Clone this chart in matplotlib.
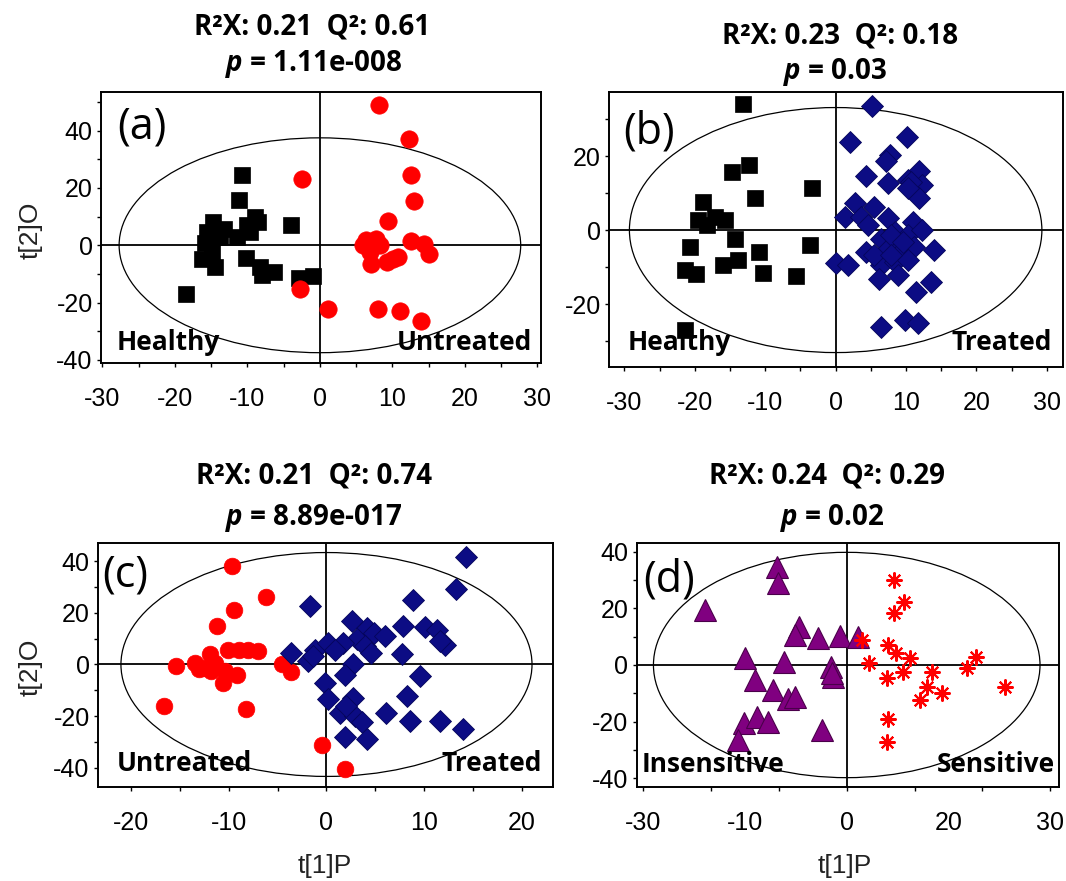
import matplotlib
matplotlib.use('Agg')
import matplotlib.pyplot as plt
from matplotlib.patches import Ellipse
from matplotlib import font_manager as fm


def pick(fams):
    for f in fams:
        try:
            fm.findfont(fm.FontProperties(family=f), fallback_to_default=False)
            return f
        except Exception:
            pass
    return 'DejaVu Sans'


SANS = pick(['Liberation Sans', 'Arial', 'DejaVu Sans'])
HUM = pick(['Open Sans', 'Lato', 'DejaVu Sans'])

plt.rcParams['font.family'] = [SANS, 'DejaVu Sans']
plt.rcParams['axes.unicode_minus'] = False
plt.rcParams['mathtext.fontset'] = 'custom'
plt.rcParams['mathtext.it'] = f'{HUM}:italic:bold'
plt.rcParams['mathtext.rm'] = f'{HUM}:bold'
plt.rcParams['mathtext.bf'] = f'{HUM}:bold'

# ---------------- data ----------------
# (a) Healthy vs Untreated
a_healthy_x = [-10.7, -11.1, -9.0, -10.1, -14.7, -13.3, -15.6, -4.0, -15.9, -14.9, -16.3,
               -14.5, -10.2, -8.3, -6.4, -8.0, -2.9, -0.9, -18.5, -9.7, -8.5, -13.8, -11.5]
a_healthy_y = [24.7, 15.7, 9.9, 7.0, 8.1, 5.8, 4.7, 7.2, 0.9, -2.3, -4.7,
               -7.6, -4.4, -7.6, -9.5, -10.5, -11.4, -10.7, -16.9, 4.7, 8.1, 2.9, 2.9]
a_untreated_x = [8.2, 12.3, 12.5, 13.0, -2.5, 9.4, 6.4, 7.8, 6.9, 7.1, 9.2, 10.8,
                 8.3, 12.6, 14.3, 15.1, -2.8, 1.1, 8.0, 11.0, 14.0, 6.0, 10.1]
a_untreated_y = [48.8, 37.2, 24.7, 15.3, 23.0, 8.4, 1.7, 2.3, -2.3, -6.4, -5.8, -4.1,
                 0.0, 1.4, 0.6, -2.9, -15.1, -22.1, -22.3, -23.0, -26.5, 0.0, -4.7]

# (b) Healthy vs Treated
b_healthy_x = [-13.2, -12.3, -14.7, -3.4, -11.5, -18.8, -19.5, -17.2, -15.7, -14.3, -20.7,
               -10.9, -3.7, -16.0, -13.9, -21.4, -19.8, -10.3, -5.6, -21.4, -18.3]
b_healthy_y = [34.0, 17.6, 15.6, 11.3, 8.6, 7.7, 2.7, 3.6, 2.7, -2.3, -4.5,
               -5.9, -4.1, -9.5, -8.1, -10.8, -12.0, -11.7, -12.3, -27.0, 1.4]
b_treated_x = [5.2, 2.1, 10.1, 7.7, 7.2, 4.3, 11.8, 10.3, 7.4, 12.2, 11.9, 10.7, 2.7, 5.5,
               1.3, 3.6, 4.6, 7.4, 11.0, 8.4, 10.3, 6.5, 14.0, 4.3, 7.4, 9.3, 11.2, 0.1,
               1.7, 6.5, 8.4, 10.3, 6.2, 8.8, 13.6, 11.4, 6.5, 9.8, 11.7, 10.3, 7.9, 9.6,
               5.5, 7.9, 12.2]
b_treated_y = [33.6, 23.7, 25.2, 20.3, 18.6, 14.7, 15.9, 13.5, 12.6, 12.2, 8.6, 13.1, 7.2, 6.3,
               3.6, 3.6, 1.4, 3.2, 2.3, -0.5, -1.4, -2.3, -5.4, -5.9, -5.0, -5.9, -4.5, -9.0,
               -9.5, -9.5, -8.6, -8.1, -13.1, -12.2, -14.0, -16.7, -26.1, -24.3, -25.2, 11.3, -1.4, -3.2,
               -6.8, -6.8, 0.0]

# (c) Untreated vs Treated
c_untreated_x = [-9.7, -6.2, -9.5, -11.2, -11.9, -10.1, -9.0, -8.0, -7.0, -15.4, -13.5, -12.6,
                 -11.4, -10.4, -9.2, -10.6, -4.6, -3.6, -16.6, -8.2, -0.5, 1.9, -13.1, -11.8]
c_untreated_y = [38.2, 26.1, 21.0, 15.1, 3.9, 5.8, 5.8, 5.8, 5.1, -0.6, 0.6, -1.3,
                 0.6, -2.6, -3.9, -7.1, 0.0, -3.0, -16.1, -17.1, -31.3, -40.5, -1.9, -2.6]
c_treated_x = [14.3, 13.3, 8.9, -1.7, 2.6, 7.8, 10.1, 11.3, 4.1, 4.9, 6.0, 3.1, 12.1, 11.6,
               -3.6, -1.2, 0.2, 1.7, 0.9, -1.9, 3.9, 4.6, 7.7, 2.7, 1.9, 9.6, -0.2, 8.2,
               0.2, 2.7, 1.4, 2.9, 3.6, 6.1, 8.6, 11.6, 14.0, 1.9, 4.1, 2.0, -1.4]
c_treated_y = [41.8, 29.2, 25.1, 22.8, 16.7, 15.1, 14.5, 13.5, 14.2, 12.2, 10.9, 9.7, 7.7, 9.0,
               4.5, 5.8, 8.4, 8.4, 5.8, 1.3, 7.1, 4.5, 3.9, 0.0, -3.9, -4.5, -7.1, -12.2,
               -13.5, -12.9, -18.7, -19.9, -22.3, -18.7, -21.9, -21.9, -25.1, -28.3, -28.7, -16.1, 3.2]

# (d) Insensitive vs Sensitive
d_insensitive_x = [-10.3, -10.1, -20.9, -7.0, -7.6, -4.2, -1.0, 1.6, -15.0, -9.3, -2.3,
                   -2.0, -13.6, -10.8, -8.6, -7.6, -15.2, -13.3, -11.6, -3.7, -16.0, -2.1]
d_insensitive_y = [34.7, 29.1, 19.4, 13.5, 10.6, 9.4, 10.2, 10.0, 2.4, 1.2, -0.6,
                   -4.1, -5.3, -8.8, -12.1, -11.2, -20.6, -18.3, -20.0, -23.0, -26.5, -2.9]
d_sensitive_x = [6.9, 8.5, 6.9, 2.2, 6.1, 7.2, 9.3, 3.3, 8.3, 6.0, 12.5, 11.8, 14.0,
                 10.8, 17.7, 19.1, 23.3, 6.1, 6.0]
d_sensitive_y = [30.0, 22.4, 18.5, 8.8, 7.1, 4.1, 2.4, 0.6, -2.4, -4.7, -2.4, -7.7, -10.0,
                 -12.4, -1.2, 2.9, -7.7, -19.2, -27.1]

titles_line1 = ["R²X: 0.21  Q²: 0.61", "R²X: 0.23  Q²: 0.18",
                "R²X: 0.21  Q²: 0.74", "R²X: 0.24  Q²: 0.29"]
p_values = ["1.11e-008", "0.03", "8.89e-017", "0.02"]
panel_letters = ["(a)", "(b)", "(c)", "(d)"]
group_labels = [("Healthy", "Untreated"), ("Healthy", "Treated"),
                ("Untreated", "Treated"), ("Insensitive", "Sensitive")]
# Hotelling T2 ellipse half-axes (t1, t2)
ellipse_axes = [(27.7, 37.5), (29.3, 33.1), (21.05, 43.4), (28.5, 39.8)]

# ---------------- styling ----------------
W, H = 1066, 881
RED = '#FF0000'
NAVY = '#0C0C84'
PURPLE = '#800080'

fig = plt.figure(figsize=(W / 100, H / 100), dpi=100)


def px_axes(l, t, r, b):
    return fig.add_axes([l / W, 1 - b / H, (r - l) / W, (b - t) / H])


axA = px_axes(101, 92, 541, 363)
axB = px_axes(609, 92, 1063, 367)
axC = px_axes(98, 543, 553, 787)
axD = px_axes(636.5, 543, 1059, 787)
axes = [axA, axB, axC, axD]

axA.set_xlim(-30.2, 30.5); axA.set_ylim(-41.1, 53.5)
axB.set_xlim(-32.2, 32.3); axB.set_ylim(-37.0, 37.3)
axC.set_xlim(-23.4, 23.2); axC.set_ylim(-47.5, 47.1)
axD.set_xlim(-31.0, 31.3); axD.set_ylim(-43.1, 43.1)

# markers
axA.plot(a_healthy_x, a_healthy_y, 's', color='black', ms=12, mec='black', mew=0.5, zorder=3)
axA.plot(a_untreated_x, a_untreated_y, 'o', color=RED, ms=12.5, mec=RED, mew=0.5, zorder=3)
axB.plot(b_healthy_x, b_healthy_y, 's', color='black', ms=11.3, mec='black', mew=0.5, zorder=3)
axB.plot(b_treated_x, b_treated_y, 'D', color=NAVY, ms=11, mec='#05055A', mew=0.6, zorder=3)
axC.plot(c_untreated_x, c_untreated_y, 'o', color=RED, ms=12, mec=RED, mew=0.5, zorder=3)
axC.plot(c_treated_x, c_treated_y, 'D', color=NAVY, ms=10.7, mec='#05055A', mew=0.6, zorder=3)
axD.plot(d_insensitive_x, d_insensitive_y, '^', color=PURPLE, ms=16, mec='#4A004A', mew=0.8, zorder=3)
axD.plot(d_sensitive_x, d_sensitive_y, ls='none', marker=(8, 2, 0), color=RED, ms=11.5,
         mew=1.5, zorder=3)

for ax, (ew, eh) in zip(axes, ellipse_axes):
    ax.add_patch(Ellipse((0, 0), 2 * ew, 2 * eh, fill=False, lw=0.9, ec='black', zorder=2))
    ax.axhline(0, color='black', lw=1.3, zorder=1)
    ax.axvline(0, color='black', lw=1.3, zorder=1)
    for s in ax.spines.values():
        s.set_linewidth(1.4)
    ax.tick_params(which='both', direction='out', length=3, width=1, labelsize=18,
                   colors='black')
    ax.tick_params(axis='x', which='both', pad=14)
    ax.tick_params(axis='y', which='both', pad=3)

# ticks
axA.set_xticks(range(-30, 31, 10)); axA.set_xticks(range(-25, 30, 10), minor=True)
axA.set_yticks(range(-40, 41, 20)); axA.set_yticks(range(-30, 51, 20), minor=True)
axB.set_xticks(range(-30, 31, 10)); axB.set_xticks(range(-25, 30, 10), minor=True)
axB.set_yticks([-20, 0, 20]); axB.set_yticks([-30, -10, 10, 30], minor=True)
axC.set_xticks(range(-20, 21, 10)); axC.set_xticks([-15, -5, 5, 15], minor=True)
axC.set_yticks(range(-40, 41, 20)); axC.set_yticks(range(-30, 31, 20), minor=True)
axD.set_xticks(range(-30, 31, 10), labels=['-30', '', '', '0', '', '', '30'])
axD.set_xticks([-15, 15], labels=['-10', '20'], minor=True)
axD.tick_params(axis='x', which='minor', length=0, pad=17)
axD.set_yticks(range(-40, 41, 20)); axD.set_yticks(range(-30, 31, 20), minor=True)

# panel letters and group labels
letter_pos = [(0.036, 0.952), (0.031, 0.935), (0.009, 0.959), (0.015, 0.94)]
left_pos = [(0.036, 0.048), (0.04, 0.062), (0.042, 0.066), (0.013, 0.061)]
right_pos = [(0.98, 0.048), (0.976, 0.062), (0.976, 0.066), (0.99, 0.061)]
for ax, let, lp, (gl, gr), lpos, rpos in zip(axes, panel_letters, letter_pos, group_labels,
                                          left_pos, right_pos):
    ax.text(lp[0], lp[1], let, transform=ax.transAxes, ha='left', va='top',
            family=[HUM, 'DejaVu Sans'], fontsize=31, zorder=4)
    ax.text(lpos[0], lpos[1], gl, transform=ax.transAxes, ha='left', va='baseline',
            family=[HUM, 'DejaVu Sans'], fontweight='bold', fontsize=19, zorder=4)
    ax.text(rpos[0], rpos[1], gr, transform=ax.transAxes, ha='right', va='baseline',
            family=[HUM, 'DejaVu Sans'], fontweight='bold', fontsize=19, zorder=4)

# titles
title_pos = [((312, 27), (314, 64)), ((840, 36), (835, 72)),
             ((314, 476), (314, 518)), ((827, 476), (832, 518))]
for (p1, p2), t1, pv in zip(title_pos, titles_line1, p_values):
    fig.text(p1[0] / W, 1 - p1[1] / H, t1, ha='center', va='center',
             family=[HUM, 'DejaVu Sans'], fontweight='bold', fontsize=20)
    fig.text(p2[0] / W, 1 - p2[1] / H, r'$p$ = ' + pv, ha='center', va='center',
             family=[HUM, 'DejaVu Sans'], fontweight='bold', fontsize=20)

# axis labels
for yc in (230, 667):
    fig.text(31 / W, 1 - yc / H, 't[2]O', rotation=90, ha='center', va='center',
             fontsize=19, color='#222222')
for xc in (325, 845):
    fig.text(xc / W, 1 - 866 / H, 't[1]P', ha='center', va='center',
             fontsize=19, color='#222222')

fig.savefig('out.png', dpi=100)
